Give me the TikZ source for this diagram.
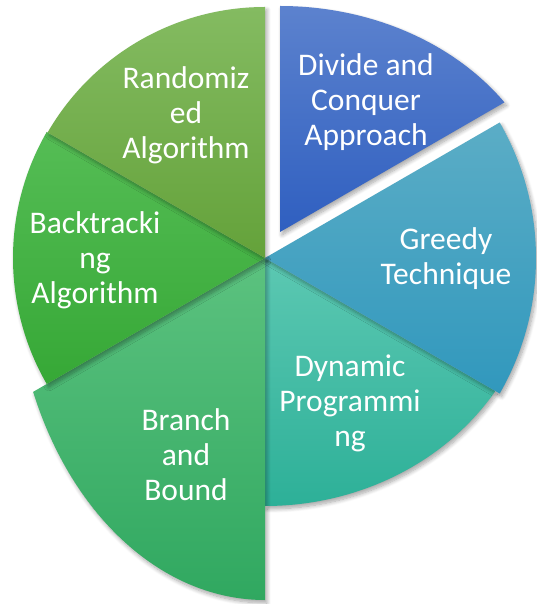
\documentclass[tikz,border=0pt]{standalone}
\usepackage{fontspec}
\setmainfont{Carlito}
\usetikzlibrary{shadows.blur}

% sector colours (top / bottom of the vertical gradient)
\definecolor{randTop}{HTML}{84BB61}\definecolor{randBot}{HTML}{64A23A}
\definecolor{backTop}{HTML}{55BD55}\definecolor{backBot}{HTML}{36A836}
\definecolor{bnbTop}{HTML}{5CC27F}\definecolor{bnbBot}{HTML}{30A860}
\definecolor{dynTop}{HTML}{5CC8B2}\definecolor{dynBot}{HTML}{2DB098}
\definecolor{greTop}{HTML}{5BADC6}\definecolor{greBot}{HTML}{3198BD}
\definecolor{divTop}{HTML}{5C82CE}\definecolor{divBot}{HTML}{2F5FC0}

\tikzset{
  sector/.style 2 args={top color=#1, bottom color=#2, draw=none,
    blur shadow={shadow xshift=2pt, shadow yshift=-3pt, shadow blur radius=4pt,
                 shadow blur steps=8, shadow opacity=35}},
  label/.style={text=white, align=center, inner sep=0pt,
    font=\fontsize{31.5}{35}\selectfont},
}

\begin{document}
\begin{tikzpicture}[x=1pt, y=1pt]
  \useasboundingbox (-265,-346) rectangle (271,258);

  \coordinate (c) at (0,0);
  \coordinate (apex) at (15,26);

  % Dynamic Programming (270 to 330 degrees)
  \path[sector={dynTop}{dynBot}] (c) -- (0,-248)
    arc[start angle=-90, end angle=-32.44, x radius=273, y radius=248] -- cycle;
  % Greedy Technique (-30 to 30 degrees)
  \path[sector={greTop}{greBot}] (c) -- (-30:271)
    arc[start angle=-30, end angle=30, radius=271] -- cycle;
  % Branch and Bound (210 to 270 degrees)
  \path[sector={bnbTop}{bnbBot}] (c) -- (0,-342)
    arc[start angle=270, end angle=203.05, x radius=252, y radius=342] -- cycle;
  % Backtracking Algorithm (150 to 210 degrees)
  \path[sector={backTop}{backBot}] (c) -- (150:252)
    arc[start angle=150, end angle=210, radius=252] -- cycle;
  % Randomized Algorithm (90 to 150 degrees)
  \path[sector={randTop}{randBot}] (c) -- (90:251)
    arc[start angle=90, end angle=150, radius=251] -- cycle;
  % Divide and Conquer (30 to 90 degrees), pulled out of the pie
  \path[sector={divTop}{divBot}] (apex) -- ++(0,226)
    arc[start angle=90, end angle=35, x radius=274, y radius=226] -- cycle;

  % labels
  \node[label] (divide) at (101,156) {Divide and\\Conquer\\Approach};
  \node[label] (greedy) at (181,-1) {Greedy\\Technique};
  \node[label] (dynamic) at (85,-145) {Dynamic\\Programmi\\ng};
  \node[label] (bnb) at (-79,-197) {Branch\\and\\Bound};
  \node[label] (back) at (-170,-2) {Backtracki\\ng\\Algorithm};
  \node[label] (rand) at (-79,143) {Randomiz\\ed\\Algorithm};
\end{tikzpicture}
\end{document}
